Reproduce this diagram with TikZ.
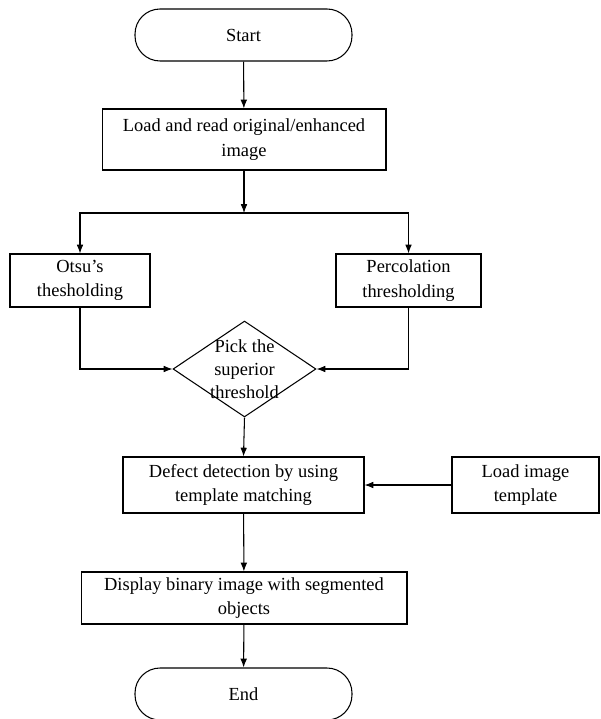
\documentclass[tikz,border=0pt]{standalone}
\usepackage{fontspec}
\setmainfont{Liberation Serif}
\usetikzlibrary{arrows.meta, shapes.geometric}

\begin{document}
\begin{tikzpicture}[x=0.02cm, y=-0.02cm, line width=0.6pt,
    >={Latex[length=5pt,width=3.8pt]},
    every node/.style={font=\fontsize{10.5}{14}\selectfont, align=center},
    terminal/.style={draw, rounded corners=0.5cm, minimum width=4.34cm, minimum height=1.04cm},
    process/.style={draw, inner sep=2pt, minimum height=1.1cm},
    decision/.style={draw, diamond, inner sep=0pt, minimum width=2.86cm, minimum height=1.92cm}]
    % Page frame
    \useasboundingbox (0,0) rectangle (600,719);

    % Start and load
    \node[terminal] (start) at (243.5,35) {Start};
    \node[process, minimum width=5.68cm, minimum height=1.22cm] (load) at (244,139.5)
        {Load and read original/enhanced\\image};
    \coordinate (split) at (244,213);

    % Two thresholds
    \node[process, minimum width=2.8cm, minimum height=1.06cm] (otsu) at (80,280.5)
        {Otsu's\\thesholding};
    \node[process, minimum width=2.9cm, minimum height=1.06cm] (perc) at (408.5,280.5)
        {Percolation\\thresholding};

    % Decision
    \node[decision] (pick) at (244.5,369) {};
    \node[inner sep=0pt, font=\fontsize{10.5}{13.2}\selectfont] (picktext) at (pick.center)
        {Pick the\\superior\\threshold};

    % Detection
    \node[process, minimum width=4.82cm, minimum height=1.12cm] (defect) at (243.5,485)
        {Defect detection by using\\template matching};
    \node[process, minimum width=2.94cm, minimum height=1.12cm] (tmpl) at (525.5,485)
        {Load image\\template};

    % Display and end
    \node[process, minimum width=6.52cm, minimum height=1.04cm] (show) at (244,598)
        {Display binary image with segmented\\objects};
    \node[terminal] (end) at (243.5,694) {End};

    % Connectors
    \draw[->] (start) -- (load);
    \draw[->] (load) -- (split);
    \draw[->] (split) -| (otsu.north);
    \draw[->] (split) -| (perc.north);
    \draw[->] (otsu.south) |- (pick.west);
    \draw[->] (perc.south) |- (pick.east);
    \draw[->] (pick.south) -- (defect.north);
    \draw[->] (tmpl.west) -- (defect.east);
    \draw[->] (defect) -- (show);
    \draw[->] (show) -- (end);
\end{tikzpicture}
\end{document}
